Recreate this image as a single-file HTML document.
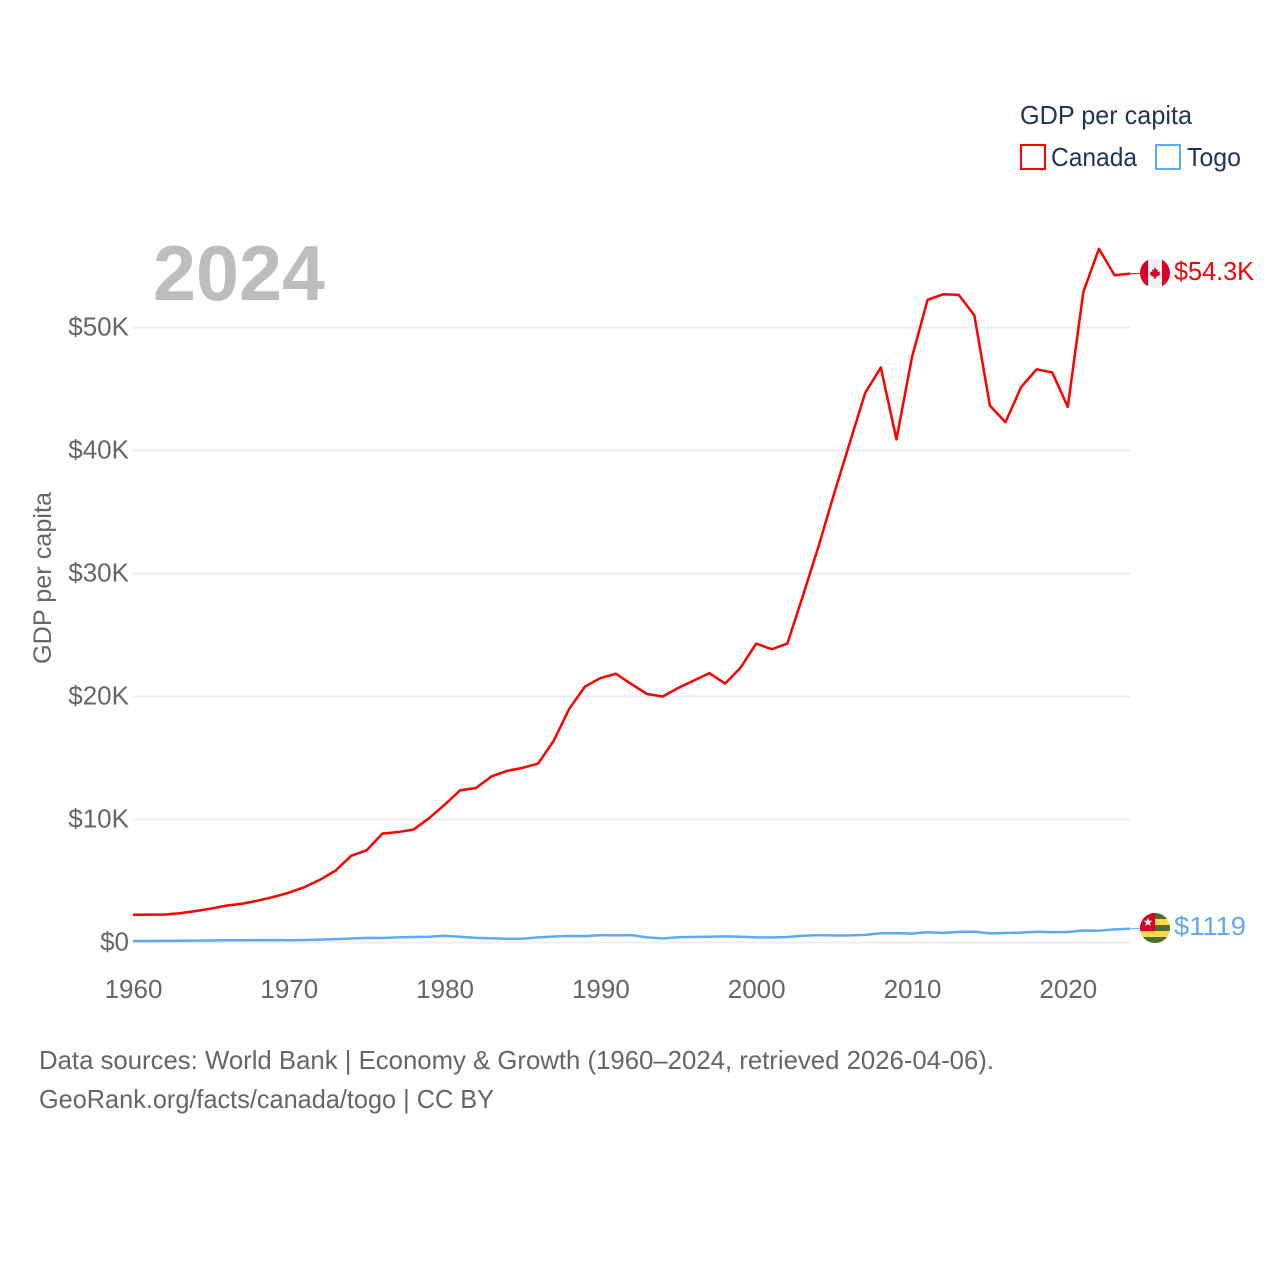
<!DOCTYPE html>
<html>
<head>
<meta charset="utf-8">
<style>
html,body{margin:0;padding:0;background:#fff;}
svg{display:block;}
text{font-family:"Liberation Sans",sans-serif;}
</style>
</head>
<body>
<svg id="chart" width="1280" height="1280" viewBox="0 0 1280 1280" xmlns="http://www.w3.org/2000/svg">
  <defs>
    <clipPath id="flag-clip-canada"><circle cx="1155" cy="273" r="15"/></clipPath>
    <clipPath id="flag-clip-togo"><circle cx="1155" cy="928" r="15"/></clipPath>
  </defs>
  <rect x="0" y="0" width="1280" height="1280" fill="#ffffff"/>
  <g id="grid"></g>
  <g id="yticks"></g>
  <g id="xticks"></g>
  <text x="153" y="300" font-size="78" font-weight="700" fill="#bdbdbd" textLength="172" lengthAdjust="spacingAndGlyphs">2024</text>
  <text transform="translate(51,578) rotate(-90)" text-anchor="middle" font-size="25" fill="#666666" textLength="172" lengthAdjust="spacingAndGlyphs">GDP per capita</text>
  <g id="series"></g>

  <g>
    <text x="1020" y="124" font-size="26" fill="#1d3557" textLength="172" lengthAdjust="spacingAndGlyphs">GDP per capita</text>
    <g>
      <rect x="1021" y="145" width="24" height="24" fill="#ffffff" stroke="#ff0000" stroke-width="2"/>
      <text x="1051" y="166" font-size="26" fill="#1d3557" textLength="86" lengthAdjust="spacingAndGlyphs">Canada</text>
    </g>
    <g>
      <rect x="1156" y="145" width="24" height="24" fill="#ffffff" stroke="#60a9ee" stroke-width="2"/>
      <text x="1187" y="166" font-size="26" fill="#1d3557" textLength="54" lengthAdjust="spacingAndGlyphs">Togo</text>
    </g>
  </g>

  <g clip-path="url(#flag-clip-canada)">
    <rect x="1140" y="258" width="30" height="30" fill="#f1f1f1"/>
    <rect x="1140" y="258" width="8" height="30" fill="#d80027"/>
    <rect x="1162" y="258" width="8" height="30" fill="#d80027"/>
    <polygon points="1155,267 1156.5,270 1158,269.5 1157.5,272 1160,271.5 1159.5,273.5 1160.5,274.5 1156,277 1155.5,279 1154.5,279 1154,277 1149.5,274.5 1150.5,273.5 1150,271.5 1152.5,272 1152,269.5 1153.5,270" fill="#d80027"/>
  </g>
  <text x="1174" y="280" font-size="26" fill="#ff0000" textLength="80" lengthAdjust="spacingAndGlyphs">$54.3K</text>

  <g clip-path="url(#flag-clip-togo)">
    <rect x="1140" y="913" width="30" height="30" fill="#ffda44"/>
    <rect x="1140" y="913" width="30" height="6" fill="#496e2d"/>
    <rect x="1140" y="925" width="30" height="6" fill="#496e2d"/>
    <rect x="1140" y="937" width="30" height="6" fill="#496e2d"/>
    <rect x="1140" y="913" width="15" height="18" fill="#d80027"/>
    <polygon points="1148,917.5 1149.2,920.6 1152.5,920.8 1149.9,922.9 1150.8,926 1148,924.2 1145.2,926 1146.1,922.9 1143.5,920.8 1146.8,920.6" fill="#f1f1f1"/>
  </g>
  <text x="1174" y="935" font-size="26" fill="#60a9ee" textLength="72" lengthAdjust="spacingAndGlyphs">$1119</text>

  <text x="39" y="1069" font-size="26" fill="#666666" textLength="955" lengthAdjust="spacingAndGlyphs">Data sources: World Bank | Economy &amp; Growth (1960–2024, retrieved 2026-04-06).</text>
  <text x="39" y="1108" font-size="26" fill="#666666" textLength="455" lengthAdjust="spacingAndGlyphs">GeoRank.org/facts/canada/togo | CC BY</text>
</svg>
<script>
const startYear = 1960;
const canadaValues = [2.26,2.27,2.27,2.38,2.55,2.76,3.0,3.15,3.4,3.7,4.05,4.5,5.1,5.85,7.05,7.5,8.85,8.98,9.18,10.1,11.2,12.38,12.55,13.5,13.95,14.2,14.55,16.4,19.0,20.8,21.5,21.85,21.0,20.2,20.0,20.7,21.3,21.9,21.05,22.35,24.3,23.85,24.3,28.2,32.2,36.5,40.6,44.7,46.75,40.9,47.6,52.25,52.7,52.65,51.0,43.65,42.3,45.15,46.6,46.35,43.55,52.9,56.4,54.25,54.38];
const togoValues = [0.12,0.12,0.13,0.14,0.15,0.16,0.18,0.18,0.19,0.2,0.18,0.2,0.23,0.27,0.33,0.38,0.37,0.42,0.45,0.47,0.55,0.47,0.38,0.35,0.31,0.31,0.42,0.49,0.53,0.52,0.6,0.58,0.6,0.42,0.33,0.43,0.46,0.47,0.5,0.47,0.42,0.41,0.45,0.55,0.6,0.57,0.58,0.62,0.75,0.76,0.72,0.83,0.78,0.86,0.88,0.74,0.77,0.8,0.87,0.84,0.85,0.98,0.96,1.07,1.119];
const yTickValues = [0,10,20,30,40,50];
const yTickLabels = ["$0","$10K","$20K","$30K","$40K","$50K"];
const xTickValues = [1960,1970,1980,1990,2000,2010,2020];

const SVG_NS = "http://www.w3.org/2000/svg";
function xScale(year){ return 133 + (year - 1960) * 15.58; }
function yScale(value){ return 942.5 - value * 12.3; }

const gridGroup = document.getElementById("grid");
const yGroup = document.getElementById("yticks");
const xGroup = document.getElementById("xticks");
const seriesGroup = document.getElementById("series");

yTickValues.forEach(function(v, i){
  const line = document.createElementNS(SVG_NS, "line");
  
  
  line.setAttribute("x1", 133);
  line.setAttribute("x2", xScale(2024));
  line.setAttribute("y1", yScale(v));
  line.setAttribute("y2", yScale(v));
  line.setAttribute("stroke", "#eeeeee");
  line.setAttribute("stroke-width", 2);
  gridGroup.appendChild(line);

  const label = document.createElementNS(SVG_NS, "text");
  
  
  label.setAttribute("x", 129);
  label.setAttribute("y", yScale(v) + 8);
  label.setAttribute("text-anchor", "end");
  label.setAttribute("font-size", 26);
  label.setAttribute("fill", "#666666");
  label.textContent = yTickLabels[i];
  yGroup.appendChild(label);
});

xTickValues.forEach(function(year){
  const label = document.createElementNS(SVG_NS, "text");
  
  
  label.setAttribute("x", xScale(year) + 0.5);
  label.setAttribute("y", 998);
  label.setAttribute("text-anchor", "middle");
  label.setAttribute("font-size", 26);
  label.setAttribute("fill", "#666666");
  label.textContent = String(year);
  xGroup.appendChild(label);
});

function linePoints(values){
  return values.map(function(v, i){
    return xScale(startYear + i).toFixed(2) + "," + yScale(v).toFixed(2);
  }).join(" ");
}

const togoLine = document.createElementNS(SVG_NS, "polyline");


togoLine.setAttribute("points", linePoints(togoValues));
togoLine.setAttribute("fill", "none");
togoLine.setAttribute("stroke", "#60a9ee");
togoLine.setAttribute("stroke-width", 2.5);
togoLine.setAttribute("stroke-linejoin", "round");
seriesGroup.appendChild(togoLine);

const canadaLine = document.createElementNS(SVG_NS, "polyline");


canadaLine.setAttribute("points", linePoints(canadaValues));
canadaLine.setAttribute("fill", "none");
canadaLine.setAttribute("stroke", "#ff0000");
canadaLine.setAttribute("stroke-width", 2.5);
canadaLine.setAttribute("stroke-linejoin", "round");
seriesGroup.appendChild(canadaLine);

const canadaConnector = document.createElementNS(SVG_NS, "line");


canadaConnector.setAttribute("x1", xScale(2024));
canadaConnector.setAttribute("x2", 1140);
canadaConnector.setAttribute("y1", yScale(canadaValues[canadaValues.length - 1]));
canadaConnector.setAttribute("y2", yScale(canadaValues[canadaValues.length - 1]));
canadaConnector.setAttribute("stroke", "#ff0000");
canadaConnector.setAttribute("stroke-width", 1);
seriesGroup.appendChild(canadaConnector);

const togoConnector = document.createElementNS(SVG_NS, "line");


togoConnector.setAttribute("x1", xScale(2024));
togoConnector.setAttribute("x2", 1140);
togoConnector.setAttribute("y1", yScale(togoValues[togoValues.length - 1]));
togoConnector.setAttribute("y2", yScale(togoValues[togoValues.length - 1]));
togoConnector.setAttribute("stroke", "#60a9ee");
togoConnector.setAttribute("stroke-width", 1);
seriesGroup.appendChild(togoConnector);
</script>
</body>
</html>
